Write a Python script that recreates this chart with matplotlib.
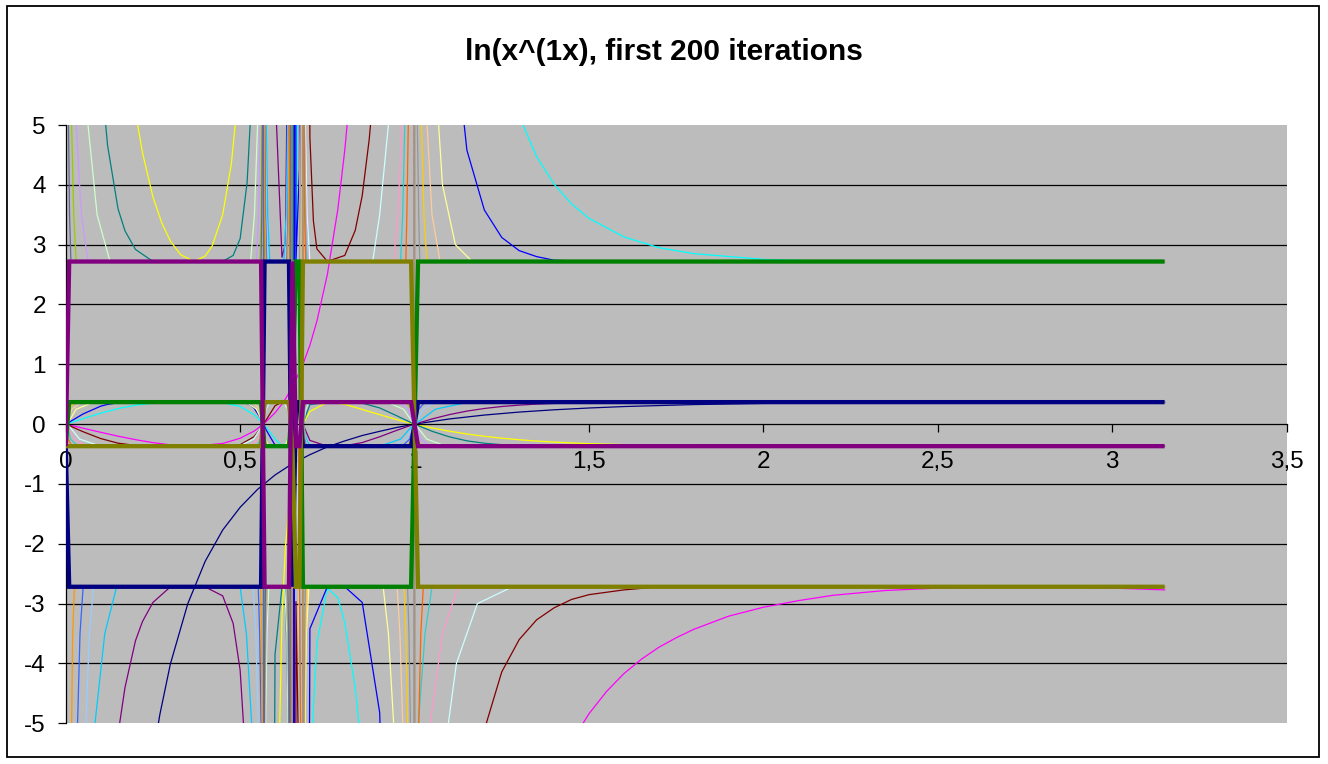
import matplotlib.pyplot as plt
from matplotlib.patches import Rectangle

plt.rcParams['font.family'] = ['Liberation Sans', 'DejaVu Sans']
plt.rcParams['axes.unicode_minus'] = False

title = "ln(x^(1x), first 200 iterations"

x_ticks = [0, 0.5, 1, 1.5, 2, 2.5, 3, 3.5]
x_labels = ["0", "0,5", "1", "1,5", "2", "2,5", "3", "3,5"]
y_ticks = [-5, -4, -3, -2, -1, 0, 1, 2, 3, 4, 5]
y_labels = ["-5", "-4", "-3", "-2", "-1", "0", "1", "2", "3", "4", "5"]
grid_levels = [-4, -3, -2, -1, 1, 2, 3, 4]

# first iterations (thin lines)
x1 = [0.01, 0.02, 0.05, 0.1, 0.15, 0.2, 0.22, 0.25, 0.27, 0.3, 0.35, 0.4, 0.45, 0.5, 0.55, 0.6, 0.65, 0.7, 0.75,
      0.8, 0.85, 0.9, 0.95, 1.0, 1.1, 1.2, 1.3, 1.4, 1.5, 1.6, 1.8, 2.0, 2.3, 2.7, 3.15]
y1 = [-460, -195, -59.9, -23.0, -12.6, -8.05, -6.88, -5.55, -4.85, -4.01, -3.0, -2.29, -1.77, -1.39, -1.09, -0.85,
      -0.66, -0.51, -0.38, -0.28, -0.19, -0.12, -0.054, 0.0, 0.087, 0.152, 0.202, 0.240, 0.270, 0.294, 0.327,
      0.347, 0.362, 0.368, 0.364]

x2 = [0.01, 0.05, 0.1, 0.15, 0.2, 0.25, 0.3, 0.368, 0.45, 0.5, 0.54, 0.567, 0.6, 0.62, 0.63, 0.65, 0.68, 0.7,
      0.72, 0.75, 0.78, 0.8, 0.82, 0.9, 0.95, 0.99, 1.01, 1.1, 1.2, 1.3, 1.4, 1.45, 1.5, 1.55, 1.6, 1.65, 1.7,
      1.75, 1.8, 1.9, 2.0, 2.1, 2.2, 2.35, 2.5, 2.8, 3.0, 3.15]
y2 = [-0.013, -0.068, -0.136, -0.201, -0.259, -0.309, -0.346, -0.368, -0.323, -0.236, -0.116, 0.0, 0.19, 0.337,
      0.423, 0.62, 1.0, 1.32, 1.72, 2.5, 3.59, 4.58, 5.86, 18.3, 54, 452, -469, -28.2, -12.4, -7.93, -5.93, -5.31,
      -4.84, -4.47, -4.17, -3.93, -3.73, -3.57, -3.43, -3.21, -3.06, -2.95, -2.86, -2.78, -2.74, -2.72, -2.74,
      -2.77]

x3 = [0.01, 0.05, 0.1, 0.15, 0.18, 0.2, 0.22, 0.25, 0.275, 0.3, 0.33, 0.368, 0.4, 0.42, 0.45, 0.475, 0.49, 0.5,
      0.54, 0.56, 0.575, 0.6, 0.62, 0.63, 0.65, 0.66, 0.67, 0.68, 0.7, 0.75, 0.8, 0.9, 0.95, 0.99, 1.01, 1.05,
      1.1, 1.15, 1.2, 1.25, 1.3, 1.35, 1.4, 1.45, 1.5, 1.6, 1.7, 2.0, 2.5, 3.15]
y3 = [325, 39.5, 14.7, 8.01, 6.09, 5.22, 4.54, 3.80, 3.37, 3.06, 2.83, 2.72, 2.81, 2.98, 3.50, 4.36, 5.25, 6.14,
      18.6, 101, -81, -8.77, -3.22, -2.04, -0.77, -0.419, -0.174, 0.0, 0.212, 0.366, 0.332, 0.159, 0.074, 0.0135,
      -0.0131, -0.0635, -0.118, -0.1645, -0.203, -0.235, -0.261, -0.283, -0.300, -0.314, -0.326, -0.342, -0.353,
      -0.366, -0.368, -0.368]

x4 = [0.01, 0.05, 0.1, 0.15, 0.2, 0.25, 0.3, 0.368, 0.45, 0.5, 0.54, 0.56, 0.575, 0.6, 0.62, 0.63, 0.64, 0.65,
      0.66, 0.67, 0.677, 0.685, 0.7, 0.71, 0.72, 0.75, 0.78, 0.8, 0.83, 0.85, 0.9, 0.95, 0.99, 1.01, 1.05, 1.1,
      1.15, 1.2, 1.25, 1.3, 1.35, 1.4, 1.45, 1.5, 1.6, 1.7, 1.8, 2.0, 2.2, 2.5, 3.15]
y4 = [0.018, 0.093, 0.183, 0.26, 0.317, 0.351, 0.366, 0.368, 0.358, 0.296, 0.157, 0.046, -0.054, -0.248, -0.363,
      -0.349, -0.191, 0.344, 2.08, 10.06, 60, -60, -7.33, -4.75, -3.66, -2.74, -2.90, -3.32, -4.41, -5.57, -11.6,
      -35.3, -319, 331, 43.4, 18.1, 10.97, 7.86, 6.17, 5.15, 4.47, 4.01, 3.68, 3.44, 3.13, 2.95, 2.85, 2.754,
      2.725, 2.72, 2.718]

x5 = [0.01, 0.05, 0.1, 0.12, 0.15, 0.17, 0.2, 0.22, 0.25, 0.3, 0.368, 0.4, 0.45, 0.48, 0.5, 0.52, 0.54, 0.56,
      0.575, 0.6, 0.62, 0.63, 0.64, 0.642, 0.645, 0.65, 0.66, 0.67, 0.677, 0.685, 0.7, 0.75, 0.8, 0.85, 0.9, 0.95,
      0.99, 1.01, 1.05, 1.1, 1.15, 1.2, 1.25, 1.3, 1.35, 1.4, 1.45, 1.5, 1.7, 2.0, 3.15]
y5 = [-223, -25.5, -9.28, -7.10, -5.18, -4.40, -3.62, -3.30, -2.98, -2.72, -2.718, -2.721, -2.87, -3.33, -4.11,
      -5.98, -11.8, -67, 54, 5.62, 2.79, 3.02, 8.66, 60, -60, -3.10, 0.352, 0.2295, 0.068, -0.068, -0.272, -0.368,
      -0.361, -0.308, -0.211, -0.101, -0.018, 0.0175, 0.0869, 0.16, 0.218, 0.262, 0.295, 0.318, 0.335, 0.346,
      0.354, 0.359, 0.367, 0.368, 0.368]

x6 = [0.01, 0.05, 0.1, 0.15, 0.2, 0.25, 0.45, 0.5, 0.54, 0.56, 0.575, 0.6, 0.62, 0.63, 0.64, 0.642, 0.645, 0.65,
      0.655, 0.656, 0.66, 0.67, 0.677, 0.685, 0.7, 0.71, 0.72, 0.75, 0.8, 0.83, 0.85, 0.87, 0.88, 0.9, 0.95, 0.99,
      1.01, 1.05, 1.1, 1.15, 1.2, 1.25, 1.3, 1.35, 1.4, 1.45, 1.5, 1.6, 1.7, 2.0, 3.15]
y6 = [-0.0243, -0.127, -0.240, -0.318, -0.355, -0.367, -0.367, -0.344, -0.209, -0.063, 0.074, 0.307, 0.368,
      0.366, 0.249, 0.068, -0.068, -0.365, 60, -60, -2.966, -6.41, -39.5, 39.5, 4.79, 3.40, 2.93, 2.72, 2.82,
      3.24, 3.82, 4.76, 5.42, 7.37, 22.7, 223, -231, -28.1, -11.5, -6.97, -5.11, -4.14, -3.60, -3.27, -3.07,
      -2.93, -2.85, -2.77, -2.72, -2.718, -2.718]

x7 = [0.01, 0.05, 0.1, 0.12, 0.15, 0.17, 0.2, 0.25, 0.45, 0.48, 0.5, 0.52, 0.53, 0.54, 0.56, 0.575, 0.6, 0.62,
      0.63, 0.64, 0.642, 0.645, 0.65, 0.652, 0.653, 0.655, 0.656, 0.66, 0.67, 0.677, 0.685, 0.7, 0.75, 0.8, 0.85,
      0.9, 0.95, 0.99, 1.01, 1.05, 1.1, 1.15, 1.2, 1.25, 1.3, 1.35, 1.4, 1.5, 3.15]
y7 = [153, 16.3, 5.95, 4.66, 3.60, 3.23, 2.92, 2.72, 2.72, 2.82, 3.10, 4.04, 5.15, 7.49, 43.9, -35.2, -3.85,
      -2.72, -2.74, -5.58, -39.5, 39.5, 2.75, 60, -60, 0.068, -0.068, -0.367, -0.29, -0.093, 0.093, 0.327, 0.368,
      0.368, 0.351, 0.271, 0.1375, 0.0243, -0.0236, -0.119, -0.212, -0.279, -0.319, -0.343, -0.356, -0.362,
      -0.366, -0.368, -0.368]

x8 = x7
y8 = [0.033, 0.171, 0.30, 0.330, 0.356, 0.363, 0.367, 0.368, 0.368, 0.368, 0.365, 0.346, 0.318, 0.269, 0.086,
      -0.101, -0.35, -0.368, -0.368, -0.308, -0.093, 0.093, 0.368, 0.068, -0.068, -39.5, 39.5, 2.73, 4.27, 25.5,
      -25.5, -3.42, -2.718, -2.718, -2.98, -4.82, -14.4, -153, 159, 17.9, 7.32, 4.58, 3.58, 3.12, 2.90, 2.80,
      2.74, 2.718, 2.718]

# later iterations, steep parts near 0, 0.567, 0.64, 0.68 and 1
x9 = [0.005, 0.084, 0.112, 0.146, 0.5, 0.518, 0.533, 0.565, 0.569, 0.575, 0.579, 0.585, 0.625, 0.632, 0.636,
      0.641, 0.645, 0.648, 0.672, 0.678, 0.682, 0.69, 0.7, 0.9, 0.96, 0.998, 1.002, 1.06, 1.155, 3.15]
y9 = [-60, -5, -3.5, -2.72, -2.72, -3.5, -5, -60, 60, 5, 3.5, 2.72, 2.72, 3.5, 5, 60, -60, -2.72, -2.72, 0,
      0, -0.25, -0.368, -0.368, -0.25, 0, 0, 0.25, 0.368, 0.368]

x10 = [0.005, 0.04, 0.1, 0.497, 0.539, 0.566, 0.568, 0.574, 0.585, 0.625, 0.636, 0.642, 0.645, 0.65, 0.665,
       0.672, 0.678, 0.682, 0.687, 0.692, 0.7, 0.88, 0.9, 0.925, 0.998, 1.002, 1.097, 1.12, 1.18, 1.28, 3.15]
y10 = [0, -0.25, -0.368, -0.368, -0.25, 0, 0, 0.25, 0.368, 0.368, 0.25, 0, 0, -0.368, -0.368, -5, -60,
       60, 5, 3.5, 2.72, 2.72, 3.5, 5, 60, -60, -5, -4, -3.0, -2.72, -2.72]

x11 = [0.004, 0.064, 0.09, 0.127, 0.53, 0.541, 0.55, 0.566, 0.568, 0.573, 0.577, 0.582, 0.628, 0.634, 0.637,
       0.642, 0.645, 0.649, 0.672, 0.678, 0.682, 0.688, 0.697, 0.92, 0.968, 0.998, 1.002, 1.035, 1.09, 3.15]
y11 = [60, 5, 3.5, 2.72, 2.72, 3.5, 5, 60, -60, -5, -3.5, -2.72, -2.72, -3.5, -5, -60, 60, 2.72, 2.72, 0,
       0, 0.25, 0.368, 0.368, 0.25, 0, 0, -0.25, -0.368, -0.368]

x12 = [0.004, 0.03, 0.08, 0.517, 0.547, 0.566, 0.568, 0.573, 0.582, 0.628, 0.637, 0.642, 0.645, 0.649, 0.668,
       0.673, 0.678, 0.682, 0.686, 0.69, 0.697, 0.91, 0.925, 0.94, 0.998, 1.002, 1.069, 1.08, 1.117, 1.165, 3.15]
y12 = [0, 0.25, 0.368, 0.368, 0.25, 0, 0, -0.25, -0.368, -0.368, -0.25, 0, 0, 0.368, 0.368, 5, 60,
       -60, -5, -3.5, -2.72, -2.72, -3.5, -5, -60, 60, 5, 4, 3, 2.72, 2.72]

x13 = [0.004, 0.058, 0.068, 0.08, 0.537, 0.545, 0.552, 0.566, 0.568, 0.572, 0.575, 0.58, 0.63, 0.635, 0.638,
       0.642, 0.645, 0.649, 0.672, 0.678, 0.682, 0.687, 0.695, 0.94, 0.976, 0.998, 1.002, 1.025, 1.06, 3.15]
y13 = [-60, -5, -3.5, -2.72, -2.72, -3.5, -5, -60, 60, 5, 3.5, 2.72, 2.72, 3.5, 5, 60, -60, -2.72, -2.72, 0,
       0, -0.25, -0.368, -0.368, -0.25, 0, 0, 0.25, 0.368, 0.368]

x14 = [0.004, 0.024, 0.06, 0.527, 0.551, 0.566, 0.568, 0.572, 0.58, 0.63, 0.638, 0.642, 0.645, 0.649, 0.667,
       0.673, 0.678, 0.682, 0.685, 0.689, 0.695, 0.94, 0.952, 0.964, 0.998, 1.002, 1.045, 1.08, 1.125, 3.15]
y14 = [0, -0.25, -0.368, -0.368, -0.25, 0, 0, 0.25, 0.368, 0.368, 0.25, 0, 0, -0.368, -0.368, -5, -60,
       60, 5, 3.5, 2.72, 2.72, 3.5, 5, 60, -60, -5, -3.5, -2.72, -2.72]

x15 = [0.003, 0.03, 0.045, 0.064, 0.547, 0.553, 0.557, 0.566, 0.568, 0.571, 0.574, 0.578, 0.632, 0.636, 0.639,
       0.642, 0.645, 0.649, 0.672, 0.678, 0.682, 0.686, 0.693, 0.955, 0.982, 0.998, 1.002, 1.018, 1.045, 3.15]
y15 = [60, 5, 3.5, 2.72, 2.72, 3.5, 5, 60, -60, -5, -3.5, -2.72, -2.72, -3.5, -5, -60, 60, 2.72, 2.72, 0,
       0, 0.25, 0.368, 0.368, 0.25, 0, 0, -0.25, -0.368, -0.368]

x16 = [0.003, 0.018, 0.045, 0.537, 0.555, 0.566, 0.568, 0.571, 0.578, 0.632, 0.638, 0.642, 0.645, 0.649, 0.668,
       0.673, 0.678, 0.682, 0.684, 0.688, 0.693, 0.95, 0.958, 0.966, 0.998, 1.002, 1.036, 1.05, 1.073, 3.15]
y16 = [0, 0.25, 0.368, 0.368, 0.25, 0, 0, -0.25, -0.368, -0.368, -0.25, 0, 0, 0.368, 0.368, 5, 60,
       -60, -5, -3.5, -2.72, -2.72, -3.5, -5, -60, 60, 5, 3.5, 2.72, 2.72]

x17 = [0.003, 0.034, 0.041, 0.05, 0.552, 0.556, 0.56, 0.566, 0.568, 0.571, 0.573, 0.576, 0.634, 0.637, 0.639,
       0.642, 0.645, 0.649, 0.672, 0.678, 0.682, 0.685, 0.69, 0.965, 0.986, 0.998, 1.002, 1.012, 1.03, 3.15]
y17 = [-60, -5, -3.5, -2.72, -2.72, -3.5, -5, -60, 60, 5, 3.5, 2.72, 2.72, 3.5, 5, 60, -60, -2.72, -2.72, 0,
       0, -0.25, -0.368, -0.368, -0.25, 0, 0, 0.25, 0.368, 0.368]

x18 = [0.003, 0.014, 0.035, 0.547, 0.559, 0.566, 0.568, 0.571, 0.576, 0.634, 0.639, 0.642, 0.645, 0.649, 0.667,
       0.673, 0.678, 0.682, 0.684, 0.687, 0.691, 0.96, 0.966, 0.972, 0.998, 1.002, 1.011, 1.03, 1.05, 3.15]
y18 = [0, -0.25, -0.368, -0.368, -0.25, 0, 0, 0.25, 0.368, 0.368, 0.25, 0, 0, -0.368, -0.368, -5, -60,
       60, 5, 3.5, 2.72, 2.72, 3.5, 5, 60, -60, -5, -3.5, -2.72, -2.72]

x19 = [0.002, 0.017, 0.023, 0.03, 0.557, 0.56, 0.562, 0.566, 0.568, 0.57, 0.572, 0.575, 0.635, 0.638, 0.64,
       0.642, 0.645, 0.649, 0.672, 0.678, 0.682, 0.684, 0.688, 0.975, 0.99, 0.998, 1.002, 1.008, 1.02, 3.15]
y19 = [60, 5, 3.5, 2.72, 2.72, 3.5, 5, 60, -60, -5, -3.5, -2.72, -2.72, -3.5, -5, -60, 60, 2.72, 2.72, 0,
       0, 0.25, 0.368, 0.368, 0.25, 0, 0, -0.25, -0.368, -0.368]

x20 = [0.002, 0.01, 0.025, 0.552, 0.561, 0.566, 0.568, 0.57, 0.575, 0.635, 0.639, 0.642, 0.645, 0.649, 0.668,
       0.673, 0.678, 0.682, 0.684, 0.686, 0.69, 0.97, 0.975, 0.98, 0.998, 1.002, 1.02, 1.027, 1.035, 3.15]
y20 = [0, 0.25, 0.368, 0.368, 0.25, 0, 0, -0.25, -0.368, -0.368, -0.25, 0, 0, 0.368, 0.368, 5, 60,
       -60, -5, -3.5, -2.72, -2.72, -3.5, -5, -60, 60, 5, 3.5, 2.72, 2.72]

x21 = [0.002, 0.017, 0.02, 0.025, 0.559, 0.561, 0.563, 0.566, 0.568, 0.57, 0.571, 0.574, 0.636, 0.638, 0.64,
       0.642, 0.645, 0.649, 0.672, 0.678, 0.682, 0.684, 0.687, 0.98, 0.992, 0.998, 1.002, 1.006, 1.015, 3.15]
y21 = [-60, -5, -3.5, -2.72, -2.72, -3.5, -5, -60, 60, 5, 3.5, 2.72, 2.72, 3.5, 5, 60, -60, -2.72, -2.72, 0,
       0, -0.25, -0.368, -0.368, -0.25, 0, 0, 0.25, 0.368, 0.368]

x22 = [0.002, 0.007, 0.018, 0.556, 0.562, 0.566, 0.568, 0.57, 0.574, 0.636, 0.64, 0.642, 0.645, 0.649, 0.667,
       0.673, 0.678, 0.682, 0.683, 0.685, 0.688, 0.975, 0.978, 0.982, 0.998, 1.002, 1.012, 1.018, 1.025, 3.15]
y22 = [0, -0.25, -0.368, -0.368, -0.25, 0, 0, 0.25, 0.368, 0.368, 0.25, 0, 0, -0.368, -0.368, -5, -60,
       60, 5, 3.5, 2.72, 2.72, 3.5, 5, 60, -60, -5, -3.5, -2.72, -2.72]

x23 = [0.002, 0.008, 0.011, 0.015, 0.56, 0.562, 0.564, 0.566, 0.568, 0.569, 0.571, 0.573, 0.637, 0.639, 0.64,
       0.642, 0.645, 0.649, 0.672, 0.678, 0.682, 0.684, 0.686, 0.985, 0.994, 0.998, 1.002, 1.005, 1.01, 3.15]
y23 = [60, 5, 3.5, 2.72, 2.72, 3.5, 5, 60, -60, -5, -3.5, -2.72, -2.72, -3.5, -5, -60, 60, 2.72, 2.72, 0,
       0, 0.25, 0.368, 0.368, 0.25, 0, 0, -0.25, -0.368, -0.368]

x24 = [0.002, 0.005, 0.012, 0.558, 0.563, 0.566, 0.568, 0.57, 0.573, 0.637, 0.64, 0.642, 0.645, 0.649, 0.668,
       0.673, 0.678, 0.682, 0.683, 0.685, 0.687, 0.98, 0.984, 0.988, 0.998, 1.002, 1.008, 1.012, 1.015, 3.15]
y24 = [0, 0.25, 0.368, 0.368, 0.25, 0, 0, -0.25, -0.368, -0.368, -0.25, 0, 0, 0.368, 0.368, 5, 60,
       -60, -5, -3.5, -2.72, -2.72, -3.5, -5, -60, 60, 5, 3.5, 2.72, 2.72]

thin_x = [x1, x2, x3, x4, x5, x6, x7, x8, x9, x10, x11, x12, x13, x14, x15, x16, x17, x18, x19, x20, x21, x22,
          x23, x24]
thin_y = [y1, y2, y3, y4, y5, y6, y7, y8, y9, y10, y11, y12, y13, y14, y15, y16, y17, y18, y19, y20, y21, y22,
          y23, y24]
thin_colors = ['#000080', '#FF00FF', '#FFFF00', '#00FFFF', '#800080', '#800000', '#008080', '#0000FF',
               '#00CCFF', '#CCFFFF', '#CCFFCC', '#FFFF99', '#99CCFF', '#FF99CC', '#CC99FF', '#FFCC99',
               '#3366FF', '#33CCCC', '#99CC00', '#FFCC00', '#FF9900', '#FF6600', '#666699', '#969696']

# last iterations: the 4-cycle e -> 1/e -> -e -> -1/e (thick lines)
x_last = [0.0, 0.01, 0.56, 0.57, 0.64, 0.65, 0.66, 0.67, 0.68, 0.99, 1.0, 1.01, 3.15]
y_green = [-0.368, 0.368, 0.368, -0.368, -0.368, 0.368, 2.718, 2.718, -2.718, -2.718, 0, 2.718, 2.718]
y_navy = [-0.368, -2.718, -2.718, 2.718, 2.718, -2.718, 0.368, 0.368, -0.368, -0.368, 0, 0.368, 0.368]
y_olive = [-0.368, -0.368, -0.368, 0.368, 0.368, -0.368, -2.718, -2.718, 2.718, 2.718, 0, -2.718, -2.718]
y_purple = [-0.368, 2.718, 2.718, -2.718, -2.718, 2.718, -0.368, -0.368, 0.368, 0.368, 0, -0.368, -0.368]
last_y = [y_green, y_navy, y_olive, y_purple]
last_colors = ['#008000', '#000080', '#808000', '#800080']

W, H = 1328, 764
fig = plt.figure(figsize=(W / 100, H / 100), dpi=100)
ax = fig.add_axes([65.7 / W, 1 - 723.3 / H, (1286.7 - 65.7) / W, (723.3 - 125) / H])
ax.set_facecolor('#bcbcbc')
ax.set_xlim(0, 3.5)
ax.set_ylim(-5, 5)

for g in grid_levels:
    ax.axhline(g, color='black', lw=0.9, zorder=1)

for xs, ys, c in zip(thin_x, thin_y, thin_colors):
    ax.plot(xs, ys, color=c, lw=0.9, zorder=2)

for ys, c in zip(last_y, last_colors):
    ax.plot(x_last, ys, color=c, lw=3.1, zorder=3, solid_capstyle='butt', solid_joinstyle='miter')

ax.spines['top'].set_visible(False)
ax.spines['right'].set_visible(False)
ax.spines['bottom'].set_position(('data', 0))
ax.spines['bottom'].set_zorder(2.5)
ax.spines['left'].set_zorder(2.5)
ax.spines['bottom'].set_linewidth(0.9)
ax.spines['left'].set_linewidth(0.9)

ax.set_xticks(x_ticks)
ax.set_xticklabels(x_labels)
ax.set_yticks(y_ticks)
ax.set_yticklabels(y_labels)
ax.tick_params(axis='x', direction='out', length=5.5, width=0.9, pad=14, labelsize=17.5)
ax.tick_params(axis='y', direction='out', length=5.8, width=0.9, pad=8.5, labelsize=17.5)

fig.text(664 / W, 1 - 52 / H, title, ha='center', va='center', fontsize=21.5, fontweight='bold')

fig.add_artist(Rectangle((6.5 / W, 1 - 757 / H), (1319 - 6.5) / W, (757 - 6) / H, transform=fig.transFigure,
                         fill=False, ec='black', lw=1.3))

plt.savefig("out.png", dpi=100)
